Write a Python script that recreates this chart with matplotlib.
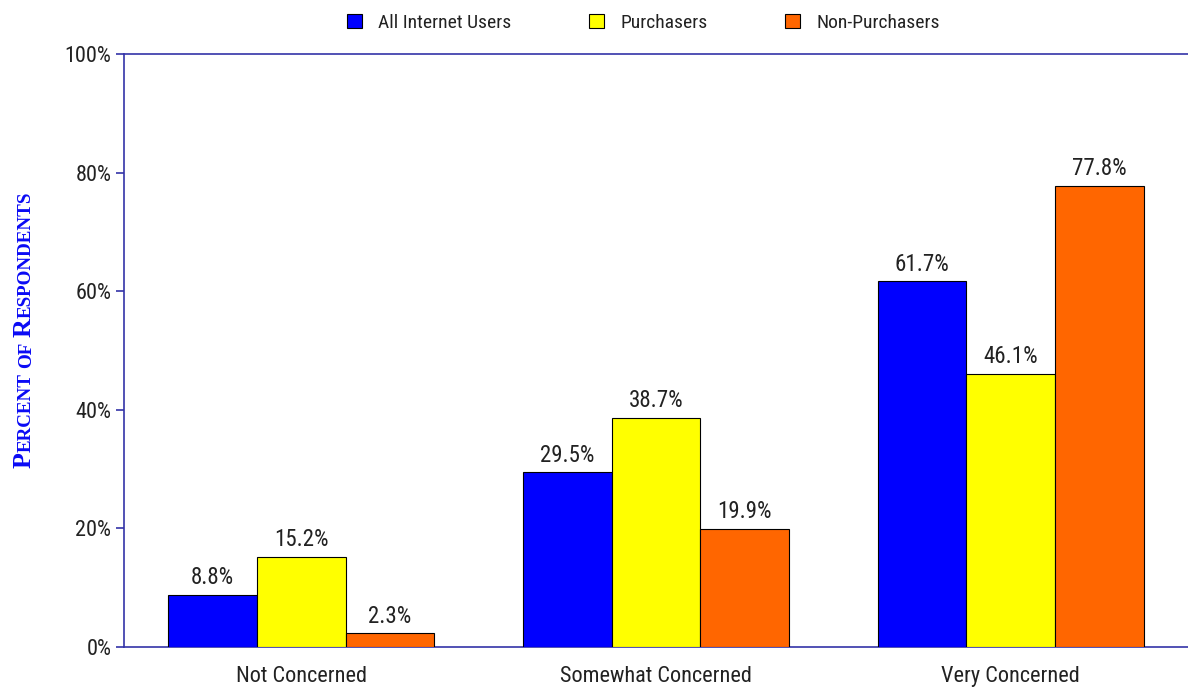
import matplotlib
matplotlib.use('Agg')
import matplotlib.pyplot as plt
from matplotlib import font_manager
import numpy as np

# Data
categories = ['Not Concerned', 'Somewhat Concerned', 'Very Concerned']
series_names = ['All Internet Users', 'Purchasers', 'Non-Purchasers']
all_users = [8.8, 29.5, 61.7]
purchasers = [15.2, 38.7, 46.1]
non_purchasers = [2.3, 19.9, 77.8]
yticks = [0, 20, 40, 60, 80, 100]

colors = ['#0000FF', '#FFFF00', '#FF6600']
axis_color = '#3434A8'
text_color = '#222222'
label_blue = '#0A0AF5'


def pick_narrow():
    """Look for a narrow sans font, returns (family, stretch, is_narrow)."""
    fonts = font_manager.fontManager.ttflist
    names = {f.name for f in fonts}
    for n in ['Liberation Sans Narrow', 'Arial Narrow', 'Roboto Condensed',
              'Open Sans Condensed', 'DejaVu Sans Condensed']:
        if n in names:
            return n, 'normal', True
    for f in fonts:
        st = str(f.stretch)
        if 'condensed' in st and 'extra' not in st and 'ultra' not in st \
                and f.style == 'normal' and 'Serif' not in f.name and 'Mono' not in f.name \
                and 'CJK' not in f.name:
            return f.name, f.stretch, True
    return 'Liberation Sans', 'normal', False


def pick_font(names):
    available = {f.name for f in font_manager.fontManager.ttflist}
    for n in names:
        if n in available:
            return n
    return 'DejaVu Sans'


def main():
    sans, stretch, narrow = pick_narrow()
    serif = pick_font(['Liberation Serif', 'DejaVu Serif'])
    k = 1.0 if narrow else 0.88
    plt.rcParams['font.family'] = [sans, 'DejaVu Sans']
    plt.rcParams['font.stretch'] = stretch

    W, H = 1188, 691
    fig = plt.figure(figsize=(W / 100, H / 100), dpi=100)
    ax = fig.add_axes([124 / W, 44 / H, (W - 124) / W, 593 / H])

    x = np.arange(len(categories))
    width = 0.25
    series = [all_users, purchasers, non_purchasers]
    bars = []
    for i, (vals, name, col) in enumerate(zip(series, series_names, colors)):
        b = ax.bar(x + (i - 1) * width, vals, width, color=col, edgecolor='black',
                   linewidth=0.8, label=name, zorder=3)
        bars.append(b)
        for rect, v in zip(b, vals):
            ax.annotate(f'{v:.1f}%', (rect.get_x() + rect.get_width() / 2, v),
                        xytext=(0, 4), textcoords='offset points',
                        ha='center', va='bottom', fontsize=16.5 * k, color=text_color)

    ax.set_xlim(-0.5, 2.5)
    ax.set_ylim(0, 100)
    ax.set_yticks(yticks)
    ax.set_yticklabels([f'{t}%' for t in yticks])
    ax.set_xticks(x)
    ax.set_xticklabels(categories)

    for side in ['left', 'bottom', 'top']:
        ax.spines[side].set_color(axis_color)
        ax.spines[side].set_linewidth(1.2)
    ax.spines['right'].set_visible(False)

    ax.tick_params(axis='y', direction='out', length=5.5, width=1.2, color=axis_color,
                   labelsize=16 * k, labelcolor=text_color, pad=3.5)
    ax.tick_params(axis='x', length=0, labelsize=16 * k, labelcolor=text_color, pad=14)

    # Legend across the top
    fig.legend(handles=bars, labels=series_names, loc='center',
               bbox_to_anchor=(643.5 / W, 1 - 23 / H), ncol=3, frameon=False,
               fontsize=14 * k, handlelength=0.75, handleheight=0.75,
               handletextpad=0.85, columnspacing=4.0, labelcolor=text_color)

    # Y label in small caps: big P and R, the rest smaller
    big, small = 18.7, 13.7
    gap = 0.25 * small * 100 / 72
    pieces = [('P', big, 0), ('ERCENT', small, gap), ('OF', small, gap),
              ('R', big, 0), ('ESPONDENTS', small, 0)]
    renderer = fig.canvas.get_renderer()
    y_pos = H - 468
    for txt, size, after in pieces:
        t = fig.text(31 / W, y_pos / H, txt, rotation=90, rotation_mode='anchor',
                     ha='left', va='baseline', fontsize=size, fontweight='bold',
                     family=serif, fontstretch='normal', color=label_blue)
        bb = t.get_window_extent(renderer)
        y_pos += bb.height + after

    fig.savefig('out.png', dpi=100)


if __name__ == '__main__':
    main()
